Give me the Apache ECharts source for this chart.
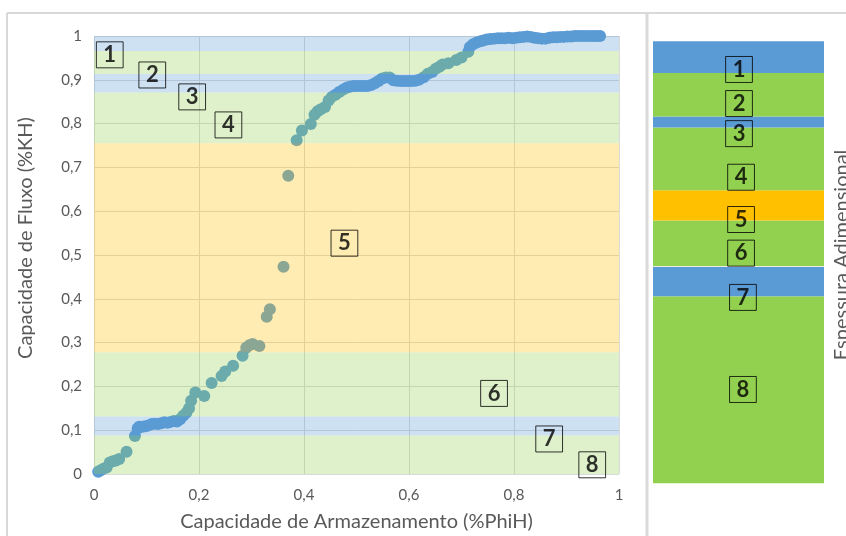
<!DOCTYPE html>
<html>
<head>
<meta charset="utf-8">
<script src="https://cdn.jsdelivr.net/npm/echarts@6/dist/echarts.min.js"></script>
<style>
  html, body { margin: 0; padding: 0; background: #fff; }
  #chart { width: 846px; height: 536px; }
</style>
</head>
<body>
<div id="chart"></div>
<script>
// Storage capacity (%PhiH) vs flow capacity (%KH), Lorenz-style curve
const phiH = [
  0.008, 0.012, 0.018, 0.024, 0.030, 0.036, 0.042, 0.048, 0.062, 0.078,
  0.083, 0.086, 0.092, 0.098, 0.104, 0.110, 0.116, 0.122, 0.128, 0.134,
  0.140, 0.146, 0.152, 0.158, 0.164, 0.170, 0.176, 0.181, 0.185, 0.193,
  0.210, 0.224, 0.243, 0.250, 0.265, 0.283, 0.290, 0.296, 0.302, 0.315,
  0.329, 0.335, 0.361, 0.370, 0.386, 0.396, 0.413, 0.420, 0.426, 0.432,
  0.440, 0.447, 0.453, 0.460, 0.467, 0.474, 0.481, 0.487, 0.494, 0.500,
  0.507, 0.514, 0.521, 0.528, 0.535, 0.542, 0.549, 0.556, 0.563, 0.570,
  0.577, 0.584, 0.591, 0.598, 0.605, 0.612, 0.619, 0.628, 0.636, 0.644,
  0.651, 0.658, 0.664, 0.675, 0.690, 0.700, 0.713, 0.716, 0.722, 0.729,
  0.736, 0.742, 0.748, 0.755, 0.762, 0.769, 0.776, 0.783, 0.790, 0.797,
  0.804, 0.811, 0.818, 0.825, 0.832, 0.839, 0.846, 0.853, 0.860, 0.867,
  0.874, 0.881, 0.888, 0.895, 0.902, 0.909, 0.916, 0.923, 0.930, 0.937,
  0.944, 0.951, 0.958, 0.964
];
const kH = [
  0.005, 0.008, 0.012, 0.015, 0.026, 0.029, 0.031, 0.034, 0.051, 0.087,
  0.104, 0.108, 0.108, 0.109, 0.111, 0.114, 0.115, 0.114, 0.116, 0.118,
  0.117, 0.119, 0.121, 0.120, 0.125, 0.133, 0.140, 0.150, 0.167, 0.186,
  0.178, 0.208, 0.224, 0.234, 0.247, 0.270, 0.288, 0.294, 0.297, 0.292,
  0.359, 0.376, 0.473, 0.681, 0.762, 0.784, 0.799, 0.820, 0.828, 0.833,
  0.838, 0.853, 0.861, 0.866, 0.872, 0.877, 0.882, 0.884, 0.886, 0.886,
  0.886, 0.886, 0.886, 0.888, 0.892, 0.897, 0.903, 0.905, 0.905, 0.899,
  0.898, 0.897, 0.897, 0.897, 0.897, 0.898, 0.900, 0.906, 0.914, 0.918,
  0.925, 0.930, 0.935, 0.938, 0.945, 0.951, 0.964, 0.975, 0.981, 0.985,
  0.988, 0.990, 0.992, 0.993, 0.994, 0.995, 0.995, 0.995, 0.996, 0.995,
  0.996, 0.997, 0.998, 0.999, 0.998, 0.996, 0.995, 0.994, 0.994, 0.996,
  0.997, 0.997, 0.998, 0.998, 0.999, 0.999, 1.000, 1.000, 1.000, 1.000,
  1.000, 1.000, 1.000, 1.000
];

// Flow-unit bands on the %KH axis (top edge of each zone, then bottom edge of the last)
const zoneEdgesKH = [1.0, 0.966, 0.913, 0.871, 0.755, 0.278, 0.131, 0.088, 0.0];
const zoneKind = ['blue', 'green', 'blue', 'green', 'orange', 'green', 'blue', 'green'];
const zoneNames = ['1', '2', '3', '4', '5', '6', '7', '8'];

// Zone tags placed on the curve plot (phiH, kH)
const tagPhiH = [0.030, 0.111, 0.187, 0.256, 0.477, 0.762, 0.867, 0.949];
const tagKH   = [0.957, 0.911, 0.861, 0.797, 0.527, 0.184, 0.080, 0.021];

// Dimensionless thickness of each zone in the column (above / below the reference level)
const zoneThickness = [0.072, 0.098, 0.025, 0.142, 0.068, 0.104, -0.068, -0.422];
// Zone tags in the column (x across the column 0..1, y in thickness units)
const colTagX = [0.503, 0.503, 0.503, 0.515, 0.515, 0.515, 0.526, 0.526];
const colTagY = [0.445, 0.368, 0.300, 0.2015, 0.106, 0.030, -0.070, -0.278];

const xTicks = [0, 0.2, 0.4, 0.6, 0.8, 1];
const yTicks = [0, 0.1, 0.2, 0.3, 0.4, 0.5, 0.6, 0.7, 0.8, 0.9, 1];

const solid = { blue: '#5B9BD5', green: '#92D050', orange: '#FFC000' };
const tint = { blue: 'rgba(91,155,213,0.3)', green: 'rgba(146,208,80,0.3)', orange: 'rgba(255,192,0,0.3)' };

const FONT = 'Lato, "Open Sans", sans-serif';
const GREY = '#595959';
const comma = v => String(+v.toFixed(1)).replace('.', ',');

const tagLabel = {
  show: true,
  position: 'inside',
  formatter: p => p.data[2],
  fontFamily: FONT,
  fontWeight: 'bold',
  fontSize: 22,
  lineHeight: 21,
  color: '#000',
  borderColor: '#000',
  borderWidth: 1,
  padding: [5, 7, 0, 7]
};

const chart = echarts.init(document.getElementById('chart'), null, { renderer: 'canvas' });

const bandData = zoneKind.map((k, i) => [zoneEdgesKH[i + 1], zoneEdgesKH[i], k]);

// Column stacking: zones above the reference level from the level upward, then those below it
const upper = [];
const lower = [];
zoneThickness.forEach((v, i) => (v >= 0 ? upper : lower).push(i));
const stackOrder = upper.reverse().concat(lower);

const columnSeries = stackOrder.map(i => ({
  type: 'bar',
  name: 'Zona ' + zoneNames[i],
  xAxisIndex: 1,
  yAxisIndex: 1,
  stack: 'col',
  barWidth: '100%',
  data: [zoneThickness[i]],
  itemStyle: { color: solid[zoneKind[i]] },
  silent: true,
  animation: false
}));

chart.setOption({
  animation: false,
  graphic: [
    { type: 'line', shape: { x1: 7, y1: 13, x2: 846, y2: 13 }, style: { stroke: '#D9D9D9', lineWidth: 2 }, z: 100 },
    { type: 'line', shape: { x1: 7, y1: 13, x2: 7, y2: 536 }, style: { stroke: '#D9D9D9', lineWidth: 2 }, z: 100 },
    { type: 'line', shape: { x1: 647, y1: 13, x2: 647, y2: 536 }, style: { stroke: '#D9D9D9', lineWidth: 3 }, z: 100 }
  ],
  grid: [
    { left: 94, right: 227, top: 36, bottom: 62, outerBoundsMode: 'none', containLabel: false },
    { left: 653, right: 22, top: 40.7, bottom: 52.7, outerBoundsMode: 'none', containLabel: false }
  ],
  xAxis: [
    {
      type: 'value', gridIndex: 0, min: 0, max: 1, interval: 0.2,
      name: 'Capacidade de Armazenamento (%PhiH)',
      nameLocation: 'middle', nameGap: 38,
      nameTextStyle: { fontFamily: FONT, fontSize: 20, color: GREY },
      axisLine: { show: false }, axisTick: { show: false },
      axisLabel: { fontFamily: FONT, fontSize: 15, color: GREY, margin: 14, formatter: comma },
      splitLine: { show: true, lineStyle: { color: '#D9D9D9', width: 1 } }
    },
    {
      type: 'category', gridIndex: 1, data: [''],
      axisLine: { show: true, onZero: true, lineStyle: { color: '#E8EEE0', width: 1 } },
      axisTick: { show: false }, axisLabel: { show: false }, splitLine: { show: false },
      z: 5
    },
    {
      type: 'value', gridIndex: 1, min: 0, max: 1, show: false
    }
  ],
  yAxis: [
    {
      type: 'value', gridIndex: 0, min: 0, max: 1, interval: 0.1,
      name: 'Capacidade de Fluxo (%KH)',
      nameLocation: 'middle', nameGap: 58, nameRotate: 90,
      nameTextStyle: { fontFamily: FONT, fontSize: 20, color: GREY, padding: [0, 0, 0, 34] },
      axisLine: { show: false }, axisTick: { show: false },
      axisLabel: { fontFamily: FONT, fontSize: 15, color: GREY, margin: 12, formatter: comma },
      splitLine: { show: true, lineStyle: { color: '#D9D9D9', width: 1 } }
    },
    {
      type: 'value', gridIndex: 1, min: -0.49, max: 0.51, position: 'right',
      name: 'Espessura Adimensional',
      nameLocation: 'middle', nameGap: 8, nameRotate: 90,
      nameTextStyle: { fontFamily: FONT, fontSize: 20, color: GREY, padding: [0, 0, 0, 14] },
      axisLine: { show: false }, axisTick: { show: false }, axisLabel: { show: false },
      splitLine: { show: false }
    }
  ],
  series: [
    {
      type: 'scatter',
      name: 'Curva',
      xAxisIndex: 0, yAxisIndex: 0,
      symbolSize: 12,
      itemStyle: { color: '#5B9BD5', opacity: 1 },
      data: phiH.map((x, i) => [x, kH[i]]),
      z: 2
    },
    {
      type: 'custom',
      name: 'Zonas',
      xAxisIndex: 0, yAxisIndex: 0,
      silent: true,
      z: 3,
      data: bandData,
      renderItem: (params, api) => {
        const p0 = api.coord([0, api.value(1)]);
        const p1 = api.coord([1, api.value(0)]);
        return {
          type: 'rect',
          shape: { x: p0[0], y: p0[1], width: p1[0] - p0[0], height: p1[1] - p0[1] },
          style: { fill: tint[bandData[params.dataIndex][2]] }
        };
      }
    },
    {
      type: 'scatter',
      name: 'Rótulos',
      xAxisIndex: 0, yAxisIndex: 0,
      symbolSize: 0,
      clip: false,
      silent: true,
      z: 10,
      data: tagPhiH.map((x, i) => [x, tagKH[i], zoneNames[i]]),
      label: tagLabel
    },
    ...columnSeries,
    {
      type: 'scatter',
      name: 'Rótulos coluna',
      xAxisIndex: 2, yAxisIndex: 1,
      symbolSize: 0,
      clip: false,
      silent: true,
      z: 10,
      data: colTagX.map((x, i) => [x, colTagY[i], zoneNames[i]]),
      label: tagLabel
    }
  ]
});
</script>
</body>
</html>
